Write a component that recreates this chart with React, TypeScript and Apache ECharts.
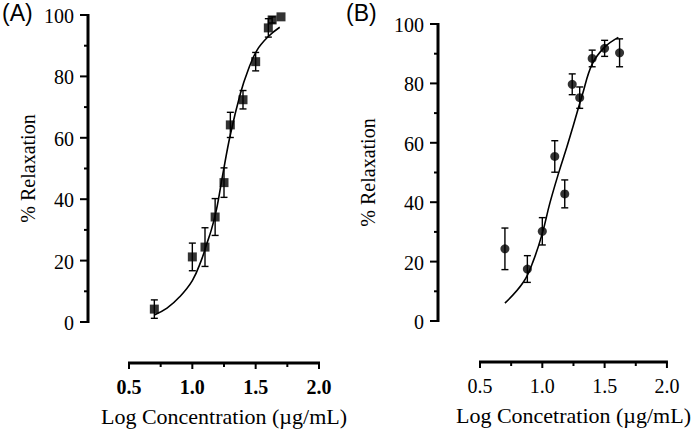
import React, { useEffect, useRef } from "react";
import * as echarts from "echarts";

// Panel A data (squares)
const concA = [0.7, 1.0, 1.1, 1.18, 1.25, 1.3, 1.4, 1.5, 1.6, 1.63, 1.7];
const relaxA = [4.2, 21.2, 24.4, 34.2, 45.4, 64.2, 72.4, 84.8, 95.8, 98.4, 99.4];
const semA = [3, 4.5, 6.3, 6, 4.8, 4.1, 3, 3, 3, 1, 0];

// Panel A fitted curve
const fitAx = [0.7, 0.8, 0.9, 1.0, 1.07, 1.11, 1.15, 1.19, 1.24, 1.3, 1.38, 1.44, 1.51, 1.6, 1.69];
const fitAy = [2.3, 4.5, 8.2, 13.5, 20, 25, 30, 36.5, 48, 61, 74.5, 82, 88.5, 93, 96];

// Panel B data (circles)
const concB = [0.7, 0.88, 1.0, 1.1, 1.18, 1.24, 1.3, 1.4, 1.5, 1.62];
const relaxB = [24.3, 17.5, 30.2, 55.4, 42.8, 79.7, 75.2, 88.4, 91.8, 90.3];
const semB = [7, 4.5, 4.6, 5.3, 4.7, 3.5, 3.6, 2.8, 2.7, 4.7];

// Panel B fitted curve
const fitBx = [0.7, 0.85, 0.93, 1.0, 1.06, 1.13, 1.2, 1.25, 1.32, 1.4, 1.5, 1.61];
const fitBy = [6, 13.2, 20.5, 29.5, 39.6, 49.7, 59, 66, 76, 86.5, 92.2, 95.5];

// Axis ticks and labels
const xTicks = [0.5, 1.0, 1.5, 2.0];
const xMinorTicks = [0.75, 1.25, 1.75];
const yTicks = [0, 20, 40, 60, 80, 100];
const yMinorTicks = [10, 30, 50, 70, 90];

const panelLabels = ["(A)", "(B)"];
const xNames = ["Log Concentration (\u00b5g/mL)", "Log Concetration (\u00b5g/mL)"];
const yName = "% Relaxation";

const SERIF = "Liberation Serif, Times New Roman, serif";
const SANS = "Liberation Sans, Arial, sans-serif";

function zip(a: number[], b: number[], c?: number[]) {
  return a.map((v, i) => (c ? [v, b[i], c[i]] : [v, b[i]]));
}

function errorRender(params: any, api: any) {
  const x = api.value(0);
  const y = api.value(1);
  const e = api.value(2);
  if (!e) return { type: "group", children: [] };
  const top = api.coord([x, y + e]);
  const bot = api.coord([x, y - e]);
  const hw = 3.5;
  const style = { stroke: "#000", lineWidth: 1.4 };
  return {
    type: "group",
    children: [
      { type: "line", shape: { x1: top[0], y1: top[1], x2: bot[0], y2: bot[1] }, style },
      { type: "line", shape: { x1: top[0] - hw, y1: top[1], x2: top[0] + hw, y2: top[1] }, style },
      { type: "line", shape: { x1: bot[0] - hw, y1: bot[1], x2: bot[0] + hw, y2: bot[1] }, style },
    ],
  };
}

function axisX(gridIndex: number, name: string, off: number): any {
  return {
    type: "value", gridIndex, min: xTicks[0], max: xTicks[xTicks.length - 1], interval: 0.5,
    offset: off, name, nameLocation: "middle", nameGap: 42,
    nameTextStyle: { fontFamily: SERIF, fontSize: 22, color: "#000" },
    axisLine: { show: false, onZero: false }, axisTick: { show: false }, axisLabel: { show: false },
    splitLine: { show: false },
  };
}
function axisY(gridIndex: number, off: number, gap: number): any {
  return {
    type: "value", gridIndex, min: yTicks[0], max: yTicks[yTicks.length - 1], interval: 20,
    offset: off, name: yName, nameLocation: "middle", nameGap: gap,
    nameTextStyle: { fontFamily: SERIF, fontSize: 20, color: "#000" },
    axisLine: { show: false, onZero: false }, axisTick: { show: false }, axisLabel: { show: false },
    splitLine: { show: false },
  };
}

// Build axis lines, ticks and labels from the library's own scales (convertToPixel)
function buildAxes(chart: any, gi: number, xOff: number, yOff: number, bold: boolean) {
  const px = (x: number, y: number) => chart.convertToPixel({ gridIndex: gi }, [x, y]) as number[];
  const els: any[] = [];
  const x0 = xTicks[0];
  const x1 = xTicks[xTicks.length - 1];
  const y0 = yTicks[0];
  const y1 = yTicks[yTicks.length - 1];
  const a = px(x0, y0);
  const b = px(x1, y0);
  const c = px(x0, y1);
  const axY = a[1] + xOff; // x-axis line position
  const axX = a[0] - yOff; // y-axis line position
  // x axis line
  els.push({ type: "rect", z: 100, shape: { x: a[0] - 1, y: axY - 1.5, width: b[0] - a[0] + 2, height: 3 }, style: { fill: "#000" } });
  // y axis line
  els.push({ type: "rect", z: 100, shape: { x: axX - 1.5, y: c[1] - 1, width: 3, height: a[1] - c[1] + 2 }, style: { fill: "#000" } });
  xTicks.forEach((v) => {
    const p = px(v, y0);
    els.push({ type: "rect", z: 100, shape: { x: p[0] - 1, y: axY, width: 2, height: 6 }, style: { fill: "#000" } });
    els.push({
      type: "text", z: 100, x: p[0], y: axY + 24,
      style: { text: v.toFixed(1), fontFamily: SERIF, fontSize: 20, fontWeight: bold ? "bold" : "normal", fill: "#000", align: "center", verticalAlign: "middle" },
    });
  });
  xMinorTicks.forEach((v) => {
    const p = px(v, y0);
    els.push({ type: "rect", z: 100, shape: { x: p[0] - 1, y: axY, width: 2, height: 4 }, style: { fill: "#000" } });
  });
  yTicks.forEach((v) => {
    const p = px(x0, v);
    els.push({ type: "rect", z: 100, shape: { x: axX - 8, y: p[1] - 1, width: 8, height: 2 }, style: { fill: "#000" } });
    els.push({
      type: "text", z: 100, x: axX - 14, y: p[1] + 1,
      style: { text: String(v), fontFamily: SERIF, fontSize: 20, fill: "#000", align: "right", verticalAlign: "middle" },
    });
  });
  yMinorTicks.forEach((v) => {
    const p = px(x0, v);
    els.push({ type: "rect", z: 100, shape: { x: axX - 4, y: p[1] - 1, width: 4, height: 2 }, style: { fill: "#000" } });
  });
  return els;
}

export default function App() {
  const ref = useRef<HTMLDivElement>(null);
  useEffect(() => {
    if (!ref.current) return;
    const chart = echarts.init(ref.current, undefined, { renderer: "svg" });
    chart.setOption({
      animation: false,
      backgroundColor: "#fff",
      grid: [
        { left: 129, top: 15, width: 190, height: 307 },
        { left: 480, top: 24, width: 187, height: 297 },
      ],
      xAxis: [axisX(0, xNames[0], 41), axisX(1, xNames[1], 41)],
      yAxis: [axisY(0, 41, 50), axisY(1, 42, 60)],
      series: [
        { type: "line", xAxisIndex: 0, yAxisIndex: 0, data: zip(fitAx, fitAy), smooth: 0.4, showSymbol: false, lineStyle: { color: "#000", width: 1.6 } },
        { type: "custom", xAxisIndex: 0, yAxisIndex: 0, data: zip(concA, relaxA, semA), renderItem: errorRender },
        { type: "scatter", xAxisIndex: 0, yAxisIndex: 0, data: zip(concA, relaxA), symbol: "rect", symbolSize: 9, itemStyle: { color: "#000" } },
        { type: "line", xAxisIndex: 1, yAxisIndex: 1, data: zip(fitBx, fitBy), smooth: 0.4, showSymbol: false, lineStyle: { color: "#000", width: 1.6 } },
        { type: "custom", xAxisIndex: 1, yAxisIndex: 1, data: zip(concB, relaxB, semB), renderItem: errorRender },
        { type: "scatter", xAxisIndex: 1, yAxisIndex: 1, data: zip(concB, relaxB), symbol: "circle", symbolSize: 9, itemStyle: { color: "#000" } },
      ],
    });
    let axisEls: any[] = [];
    try {
      axisEls = [...buildAxes(chart, 0, 41, 41, true), ...buildAxes(chart, 1, 41, 42, false)];
    } catch (e) {
      axisEls = [];
    }
    chart.setOption({
      graphic: [
        { type: "text", left: 2, top: 1, style: { text: panelLabels[0], fontFamily: SANS, fontSize: 23, fill: "#000" } },
        { type: "text", left: 346, top: 1, style: { text: panelLabels[1], fontFamily: SANS, fontSize: 23, fill: "#000" } },
        ...axisEls,
      ],
    });
    return () => chart.dispose();
  }, []);
  return (
    <div
      ref={ref}
      style={{ position: "fixed", left: 0, top: 0, width: 694, height: 438, background: "#fff" }}
    />
  );
}
